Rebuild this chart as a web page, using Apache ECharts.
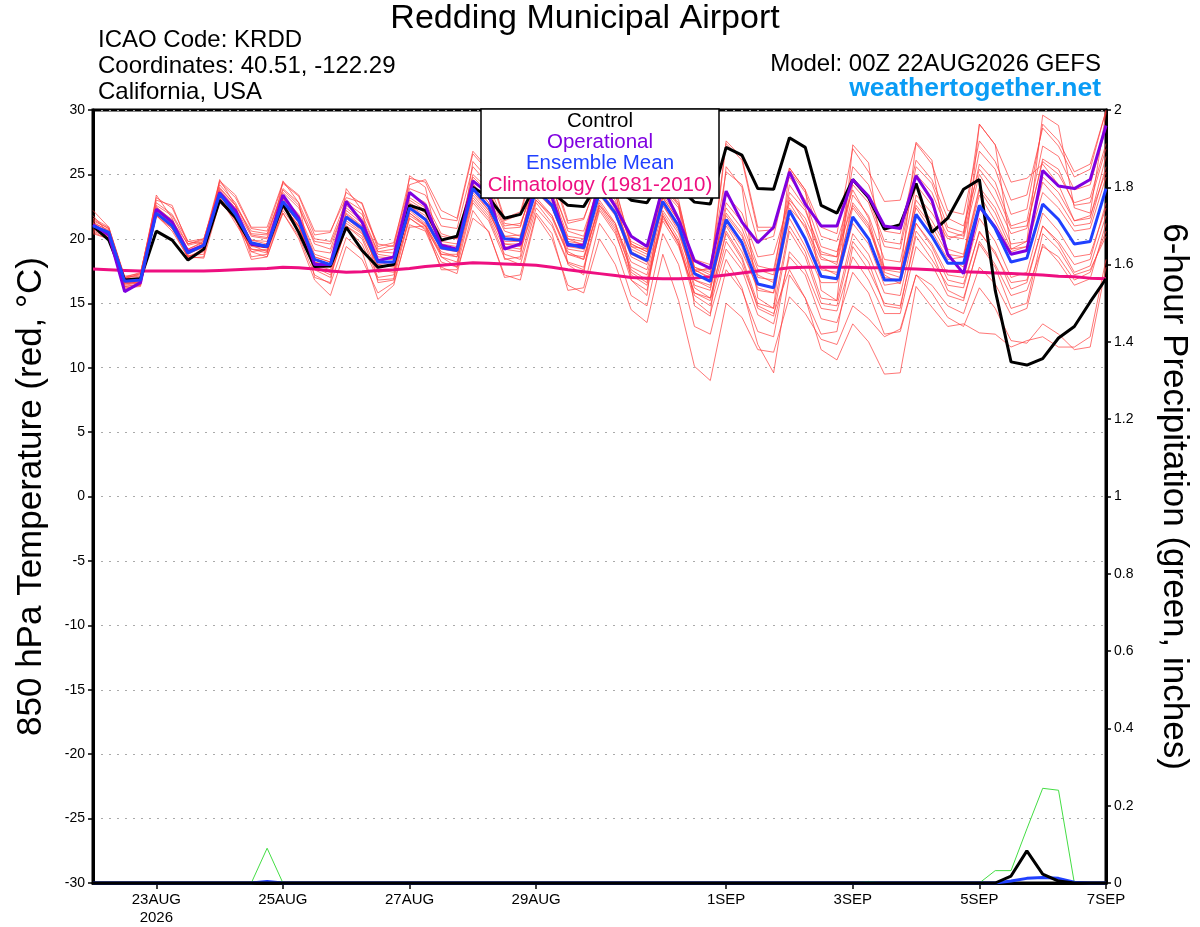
<!DOCTYPE html>
<html>
<head>
<meta charset="utf-8">
<title>Redding Municipal Airport</title>
<script src="https://cdn.jsdelivr.net/npm/echarts@6/dist/echarts.min.js"></script>
<style>
  html, body { margin: 0; padding: 0; background: #fff; }
  #chart { width: 1200px; height: 927px; }
</style>
</head>
<body>
<div id="chart"></div>
<script>
// x 轴刻度（6 小时一步，从 22AUG 00Z 起）
var tickIdx = [4, 12, 20, 28, 40, 48, 56, 64];
var tickTxt = ['23AUG\n2026', '25AUG', '27AUG', '29AUG', '1SEP', '3SEP', '5SEP', '7SEP'];

// 850hPa 温度
var control = [21.0,19.9,16.8,16.9, 20.6,19.9,18.35,19.2, 23.0,21.65,19.6,19.4, 22.7,20.5,17.85,17.9,
  20.9,19.1,17.8,18.0, 22.6,22.2,19.9,20.2, 24.0,23.2,21.6,21.9, 24.3,23.6,22.6,22.5,
  24.5,24.0,23.0,22.8, 24.8,24.0,22.85,22.7, 27.1,26.5,23.9,23.85, 27.85,27.1,22.6,22.0,
  24.6,23.2,20.75,21.1, 24.3,20.5,21.6,23.85, 24.6,16.0,10.45,10.2, 10.7,12.3,13.2,15.1, 16.9];
var operational = [21.1,20.3,15.9,16.6, 22.3,21.3,19.0,19.5, 23.6,22.2,19.6,19.4, 23.4,21.6,18.0,18.0,
  22.9,21.3,18.3,18.6, 23.6,22.6,19.5,19.2, 24.5,23.5,19.2,19.6, 24.5,23.2,19.5,19.5,
  24.5,22.5,20.2,19.4, 24.0,21.5,18.3,17.7, 23.7,21.3,19.7,20.9, 25.2,22.7,21.0,21.0,
  24.6,23.3,21.0,20.8, 24.9,23.0,18.8,17.3, 22.5,20.9,18.8,19.1, 25.3,24.1,23.9,24.6, 28.8];
var ensMean = [21.0,20.5,16.7,16.8, 22.0,21.0,18.9,19.5, 23.5,21.9,19.7,19.4, 22.9,21.4,18.4,18.0,
  21.7,20.8,18.2,18.2, 22.4,21.5,19.3,19.1, 23.9,22.5,20.0,19.9, 23.8,22.6,19.6,19.3,
  23.6,22.0,18.9,18.3, 22.9,21.0,17.3,16.7, 21.5,19.7,16.5,16.2, 22.2,20.0,17.1,16.9,
  21.7,20.0,16.8,16.8, 21.9,20.2,18.1,18.1, 22.6,20.8,18.2,18.5, 22.7,21.5,19.6,19.8, 23.9];
var climo = [17.65,17.6,17.55,17.5, 17.5,17.5,17.5,17.5, 17.55,17.6,17.65,17.7, 17.8,17.75,17.65,17.5,
  17.4,17.45,17.55,17.6, 17.7,17.85,17.95,18.05, 18.15,18.1,18.05,18.0, 17.95,17.8,17.6,17.45,
  17.3,17.15,17.0,16.95, 16.9,16.9,16.95,17.05, 17.2,17.35,17.5,17.6, 17.75,17.8,17.8,17.8,
  17.8,17.75,17.75,17.7, 17.65,17.6,17.5,17.45, 17.4,17.35,17.3,17.25, 17.2,17.1,17.05,16.95, 16.9];

// 集合成员
var m01 = [21.3,20.6,16.9,17.0, 22.6,21.8,19.5,19.8, 24.2,22.8,20.3,20.1, 23.8,22.6,19.6,19.2, 22.8,21.9,19.0,18.9, 23.5,22.8,20.4,20.0, 24.8,23.6,20.8,20.9, 25.2,24.1,20.6,20.2, 24.6,23.4,19.4,18.8, 23.8,22.4,17.6,17.0, 22.8,21.3,17.9,17.6, 23.6,22.2,19.0,18.6, 24.5,23.1,19.8,19.6, 25.6,24.3,20.9,20.5, 26.8,25.4,21.9,22.3, 28.9,27.6,25.2,25.8, 29.9];
var m02 = [21.5,20.8,17.0,17.2, 23.2,22.4,19.8,19.6, 24.4,23.2,20.8,20.6, 24.3,23.3,20.3,20.5, 23.6,22.7,19.2,19.5, 24.7,24.4,21.6,21.4, 26.6,25.2,21.4,21.9, 26.2,25.0,21.2,21.5, 25.0,23.8,19.6,19.0, 24.2,22.8,17.8,17.2, 27.4,26.1,20.6,20.7, 25.3,23.6,20.2,19.8, 23.8,21.6,17.2,16.5, 21.2,19.4,16.8,16.5, 20.5,19.0,16.1,16.6, 21.0,19.6,17.4,17.9, 21.8];
var m03 = [20.6,20.1,16.3,16.5, 21.9,21.1,18.7,18.8, 23.0,21.7,19.2,18.9, 22.4,20.9,17.8,17.2, 20.8,19.6,16.8,16.9, 21.6,20.7,18.2,17.8, 22.8,21.4,18.5,18.0, 22.4,21.0,18.1,17.6, 22.2,20.4,17.2,16.4, 21.6,19.8,15.6,14.8, 19.2,17.6,14.1,13.4, 18.6,17.2,13.8,13.5, 17.4,15.8,12.6,12.8, 17.2,15.8,13.9,13.2, 16.2,14.6,12.1,11.9, 13.4,12.6,11.4,11.6, 17.8];
var m04 = [20.8,20.2,16.5,16.6, 22.2,21.2,18.6,19.1, 23.6,21.5,19.0,19.2, 22.0,20.2,17.2,16.5, 20.1,19.0,15.3,16.4, 21.1,20.6,17.8,17.3, 22.2,20.5,17.2,16.8, 21.8,20.0,16.4,15.8, 20.0,18.0,14.5,13.5, 18.8,15.2,10.1,9.0, 15.0,13.9,11.4,11.2, 15.5,14.2,12.2,11.8, 14.8,13.8,12.4,13.0, 17.2,16.4,14.8,14.2, 17.8,16.5,14.1,14.6, 19.6,18.2,16.4,16.9, 21.2];
var m05 = [21.1,20.5,16.8,16.9, 22.1,21.3,19.1,19.6, 23.4,22.1,19.9,19.6, 23.1,21.8,18.8,18.4, 22.2,21.2,18.6,18.5, 22.8,22.0,19.6,19.4, 24.2,22.8,20.2,20.3, 24.6,23.2,20.0,19.5, 24.0,22.5,19.2,18.6, 23.4,21.6,17.8,17.4, 22.0,20.4,17.2,16.6, 22.8,20.8,17.6,17.4, 22.4,20.8,17.6,17.4, 23.0,21.4,19.2,18.8, 24.0,22.4,19.6,19.8, 24.4,23.0,21.0,21.2, 25.6];
var m06 = [20.5,20.0,16.2,16.3, 21.8,20.8,18.5,19.0, 22.9,21.5,19.0,18.6, 22.2,20.6,17.6,17.0, 21.0,20.2,17.4,17.6, 21.6,20.8,18.8,18.6, 23.2,21.8,19.2,19.0, 23.0,21.6,18.8,18.4, 22.8,21.0,18.2,17.6, 22.2,20.4,16.8,16.4, 21.2,19.4,16.0,15.8, 22.4,21.0,18.4,18.2, 24.2,22.8,19.4,19.2, 25.0,23.6,20.6,20.2, 25.8,24.4,21.0,21.4, 27.2,26.4,23.8,24.2, 28.6];
var m07 = [21.8,20.4,16.1,16.4, 23.4,21.6,18.5,18.6, 24.6,22.6,18.6,18.8, 24.5,22.8,17.0,16.6, 23.9,22.2,16.6,16.8, 24.9,24.0,18.6,17.8, 26.0,24.6,18.4,18.6, 26.4,25.2,18.0,17.2, 25.4,23.8,16.8,15.6, 24.5,22.6,14.8,14.0, 25.6,24.0,15.4,14.6, 25.5,23.8,16.0,15.2, 27.3,25.9,17.4,17.0, 27.5,26.1,18.6,17.8, 28.9,27.3,19.2,19.8, 29.6,28.8,22.4,22.0, 29.8];
var m08 = [20.9,20.3,16.6,16.7, 21.9,20.9,19.0,19.4, 23.3,21.8,19.9,19.8, 22.6,21.0,18.2,17.8, 21.2,20.4,18.0,17.8, 22.0,21.0,19.0,18.6, 23.4,22.0,19.6,19.4, 23.2,21.8,19.0,18.4, 22.6,20.8,17.6,16.8, 21.8,19.6,15.8,15.2, 19.8,18.0,14.8,14.2, 17.6,15.4,11.4,10.6, 13.4,12.0,9.5,9.6, 16.3,14.7,13.2,13.4, 12.7,12.6,11.6,12.1, 12.4,11.6,11.6,12.4, 18.4];
var m09 = [21.2,20.7,17.0,17.1, 22.4,21.5,19.2,19.7, 23.8,22.4,20.2,20.0, 23.2,21.9,19.1,18.9, 22.4,21.4,18.8,18.6, 23.0,22.2,19.8,19.6, 24.6,23.2,20.6,20.2, 24.8,23.6,20.2,20.0, 24.4,23.0,19.6,19.0, 24.0,22.6,17.6,17.6, 27.6,26.3,20.9,20.9, 24.8,23.0,19.4,19.0, 22.6,21.0,17.8,17.6, 22.4,20.6,18.4,18.6, 23.4,21.4,19.0,19.4, 23.6,22.4,20.6,20.8, 24.8];
var m10 = [21.0,20.4,16.6,16.8, 21.9,21.0,18.8,19.4, 23.6,21.9,19.6,19.5, 22.8,21.2,18.2,17.9, 21.6,20.6,18.0,18.2, 22.2,21.2,19.2,19.0, 24.0,22.6,19.8,19.8, 23.6,22.4,19.4,19.2, 23.4,21.8,18.6,18.0, 22.6,20.6,16.8,16.2, 21.0,19.0,16.2,15.8, 21.6,19.4,16.6,16.6, 21.2,19.6,16.4,16.6, 23.4,22.0,20.0,20.4, 28.9,27.3,24.4,24.7, 25.8,24.2,21.4,21.6, 26.4];
var m11 = [20.7,20.2,16.4,16.6, 21.8,20.8,18.9,19.3, 23.2,21.6,19.4,19.3, 22.5,21.0,18.0,17.6, 21.4,20.5,17.8,17.9, 22.0,21.1,18.8,18.8, 23.6,22.2,19.4,19.2, 23.0,21.8,18.8,18.6, 22.6,21.2,17.8,17.2, 21.8,19.6,15.2,14.2, 18.4,16.2,11.8,9.6, 17.2,15.4,12.6,12.8, 19.4,17.6,15.0,14.8, 20.2,18.4,16.4,16.2, 20.6,18.8,16.6,16.8, 21.0,19.8,18.0,18.4, 22.8];
var m12 = [21.4,20.8,17.0,17.4, 22.5,21.4,19.6,20.0, 23.9,22.6,20.6,20.4, 23.6,22.4,19.8,19.6, 22.6,21.6,19.0,19.2, 23.2,22.4,20.2,20.0, 25.0,23.8,21.0,21.2, 24.2,23.0,20.0,19.8, 23.8,22.6,19.8,19.2, 23.2,21.4,18.4,18.0, 23.4,22.0,18.6,18.8, 23.0,21.6,18.8,18.6, 25.6,24.2,20.6,20.4, 26.1,24.6,21.6,21.0, 25.4,23.8,20.8,21.0, 26.0,25.0,22.8,23.2, 27.4];
var m13 = [20.4,20.0,16.3,16.4, 22.0,21.0,18.6,18.5, 22.8,21.6,18.4,18.6, 22.0,20.0,16.8,15.6, 19.4,18.4,15.8,16.6, 20.9,21.0,17.6,17.6, 21.6,20.6,17.0,17.2, 22.0,20.4,16.0,16.2, 21.2,19.4,15.6,14.8, 20.4,18.0,13.2,12.6, 17.6,16.0,12.8,12.4, 19.0,17.6,14.6,14.4, 18.6,16.8,14.2,14.2, 19.4,18.0,15.6,15.2, 19.8,18.0,15.6,16.0, 19.4,18.6,16.8,17.4, 20.6];
var m14 = [22.2,20.9,16.9,17.3, 23.0,22.6,19.6,19.9, 24.5,23.4,20.9,20.9, 24.4,23.4,20.6,20.6, 23.2,22.8,19.4,19.7, 24.2,24.6,22.2,21.6, 26.8,25.4,21.6,22.1, 26.4,25.4,21.4,21.6, 24.8,24.0,19.4,19.2, 24.4,23.0,17.4,17.8, 25.2,24.2,19.8,20.2, 25.5,23.8,20.9,20.4, 27.0,25.2,22.9,23.0, 27.4,25.8,22.2,21.9, 27.6,26.0,23.0,23.4, 28.6,27.2,24.8,25.4, 30.0];
var m15 = [21.0,20.6,16.5,16.7, 22.3,21.0,19.2,19.8, 23.1,21.4,19.5,19.0, 23.0,21.6,18.6,18.2, 21.9,20.9,17.6,17.4, 22.6,21.8,19.4,19.2, 23.8,22.2,19.6,19.6, 24.0,22.4,19.2,19.0, 23.0,21.2,17.4,16.6, 21.4,19.4,15.8,15.4, 20.6,18.6,15.0,14.6, 21.0,19.0,15.4,15.2, 20.4,18.8,15.8,15.6, 21.2,19.6,17.2,17.0, 21.6,19.8,17.0,17.4, 22.0,20.6,18.6,18.8, 22.4];
var m16 = [21.2,20.4,16.7,16.9, 22.0,21.2,19.0,19.6, 23.7,22.0,19.6,19.4, 23.2,21.6,18.6,18.2, 22.0,21.0,18.4,18.4, 22.6,21.6,19.4,19.2, 24.3,22.8,20.2,20.0, 24.2,22.8,19.8,19.6, 23.8,22.2,19.0,18.4, 23.2,21.4,17.6,16.9, 22.4,20.8,17.6,17.2, 24.2,22.4,18.6,18.0, 23.4,21.8,18.4,18.2, 24.2,22.6,20.2,20.0, 25.0,23.0,20.4,20.8, 26.2,25.4,22.6,22.8, 27.0];
var m17 = [20.9,20.4,16.6,16.6, 21.8,20.6,18.6,19.2, 23.2,21.2,19.2,19.1, 22.6,21.0,17.8,17.4, 21.0,20.0,17.0,17.2, 21.8,21.0,18.6,18.2, 23.0,21.6,18.8,18.4, 22.8,21.2,18.2,17.8, 22.4,20.6,16.8,16.0, 22.0,20.0,16.2,15.4, 20.4,18.4,14.6,14.0, 20.6,18.6,15.0,14.8, 19.8,18.2,14.8,14.6, 20.6,19.0,16.0,15.4, 19.6,17.8,14.6,15.0, 20.4,19.2,17.2,17.6, 20.2];
var m18 = [21.6,20.9,17.1,17.3, 22.8,21.9,19.8,20.0, 24.0,22.6,20.4,20.3, 23.9,22.8,20.0,19.8, 23.0,22.2,19.6,19.4, 23.9,23.4,21.0,20.8, 25.6,24.2,21.2,21.0, 25.0,24.0,20.8,20.6, 24.2,22.8,18.8,18.2, 22.6,20.8,16.4,16.0, 21.8,20.2,17.0,16.8, 23.2,21.2,17.8,17.2, 22.8,21.2,17.0,16.8, 22.6,21.0,18.8,18.6, 23.8,22.0,19.2,19.4, 24.8,23.6,21.4,21.8, 25.2];
var members = [m01, m02, m03, m04, m05, m06, m07, m08, m09, m10, m11, m12, m13, m14, m15, m16, m17, m18];

// 6 小时降水（英寸）
var precipMember = [0,0,0,0, 0,0,0,0, 0,0,0,0.09, 0,0,0,0, 0,0,0,0, 0,0,0,0, 0,0,0,0, 0,0,0,0,
  0,0,0,0, 0,0,0,0, 0,0,0,0, 0,0,0,0, 0,0.004,0,0, 0,0,0,0, 0,0.032,0.032,0.14, 0.245,0.24,0,0, 0];
var precipControl = [0,0,0,0, 0,0,0,0, 0,0,0,0, 0,0,0,0, 0,0,0,0, 0,0,0,0, 0,0,0,0, 0,0,0,0,
  0,0,0,0, 0,0,0,0, 0,0,0,0, 0,0,0,0, 0,0,0,0, 0,0,0,0, 0,0,0.018,0.083, 0.023,0.005,0,0, 0];
var precipMean = [0,0,0,0, 0,0,0,0, 0,0,0,0.004, 0,0,0,0, 0,0,0,0, 0,0,0,0, 0,0,0,0, 0,0,0,0,
  0,0,0,0, 0,0,0,0, 0,0,0,0, 0,0,0,0, 0,0,0,0, 0,0,0,0, 0,0,0.005,0.012, 0.014,0.012,0.002,0, 0];

var times = [];
var t0 = Date.UTC(2026, 7, 22, 0);
for (var i = 0; i < control.length; i++) {
  times.push(new Date(t0 + i * 6 * 3600 * 1000).toISOString().slice(0, 13));
}

var FONT = '"Liberation Sans", Arial, Helvetica, sans-serif';
var isTick = function (idx) { return tickIdx.indexOf(idx) >= 0; };

var series = [];
members.forEach(function (m, k) {
  series.push({
    name: 'member' + (k + 1), type: 'line', data: m, symbol: 'none', silent: true, z: 2,
    lineStyle: { width: 1, color: 'rgba(255,60,60,0.7)' }
  });
});
series.push(
  { name: 'Precip member', type: 'line', yAxisIndex: 1, data: precipMember, symbol: 'none', z: 3,
    lineStyle: { width: 1, color: '#44dd44' } },
  { name: 'Climatology (1981-2010)', type: 'line', data: climo, symbol: 'none', z: 4,
    lineStyle: { width: 3, color: '#ee0f80' } },
  { name: 'Control', type: 'line', data: control, symbol: 'none', z: 5,
    lineStyle: { width: 3, color: '#000' } },
  { name: 'Operational', type: 'line', data: operational, symbol: 'none', z: 6,
    lineStyle: { width: 3, color: '#8000e0' } },
  { name: 'Ensemble Mean', type: 'line', data: ensMean, symbol: 'none', z: 7,
    lineStyle: { width: 3, color: '#2040ff' } },
  { name: 'Precip mean', type: 'line', yAxisIndex: 1, data: precipMean, symbol: 'none', z: 7,
    lineStyle: { width: 3, color: '#2040ff' } },
  { name: 'Precip control', type: 'line', yAxisIndex: 1, data: precipControl, symbol: 'none', z: 8,
    lineStyle: { width: 3, color: '#000' } }
);

var legendRows = [
  ['Control', '#000'],
  ['Operational', '#8000e0'],
  ['Ensemble Mean', '#2040ff'],
  ['Climatology (1981-2010)', '#ee0f80']
];
var legendEls = [{
  type: 'rect', z: 100, shape: { x: 481, y: 109, width: 238, height: 89 },
  style: { fill: '#fff', stroke: '#000', lineWidth: 1.5 }
}];
legendRows.forEach(function (r, k) {
  legendEls.push({
    type: 'text', z: 101, x: 600, y: 121 + k * 21.3,
    style: { text: r[0], fill: r[1], font: '20.5px ' + FONT, textAlign: 'center', textVerticalAlign: 'middle' }
  });
});

var infoText = function (txt, x, y, align, font, color) {
  return { type: 'text', z: 100, x: x, y: y,
    style: { text: txt, fill: color || '#000', font: font, textAlign: align, textVerticalAlign: 'middle' } };
};

var chart = echarts.init(document.getElementById('chart'));
chart.setOption({
  animation: false,
  backgroundColor: '#fff',
  textStyle: { fontFamily: FONT },
  grid: { left: 93, right: 94, top: 110, bottom: 44, show: true, borderColor: '#000', borderWidth: 3 },
  xAxis: {
    type: 'category', boundaryGap: false, data: times,
    axisLine: { onZero: false, lineStyle: { color: '#000', width: 3 } },
    axisTick: { interval: isTick, length: 6, lineStyle: { color: '#000', width: 1.5 } },
    axisLabel: {
      interval: isTick, color: '#000', fontSize: 15, margin: 8, lineHeight: 18,
      formatter: function (v, idx) { return tickTxt[tickIdx.indexOf(idx)] || ''; }
    },
    splitLine: { show: false }
  },
  yAxis: [{
    type: 'value', position: 'left', min: -30, max: 30, interval: 5,
    name: '850 hPa Temperature (red, °C)', nameLocation: 'middle', nameRotate: 90, nameGap: 44,
    nameTextStyle: { fontSize: 35, color: '#000' },
    axisLine: { show: true, lineStyle: { color: '#000', width: 3 } },
    axisTick: { show: true, length: 5, lineStyle: { color: '#000', width: 1.5 } },
    axisLabel: { color: '#000', fontSize: 14, margin: 8 },
    splitLine: { show: true, lineStyle: { color: '#aaa', type: [2, 6], width: 1.2 } }
  }, {
    type: 'value', position: 'right', min: 0, max: 2, interval: 0.2,
    name: '6-hour Precipitation (green, inches)', nameLocation: 'middle', nameRotate: -90, nameGap: 50,
    nameTextStyle: { fontSize: 35, color: '#000' },
    axisLine: { show: true, lineStyle: { color: '#000', width: 3 } },
    axisTick: { show: true, length: 5, lineStyle: { color: '#000', width: 1.5 } },
    axisLabel: { color: '#000', fontSize: 14, margin: 8 },
    splitLine: { show: false }
  }],
  graphic: [
    infoText('Redding Municipal Airport', 585, 19, 'center', '34px ' + FONT),
    infoText('ICAO Code: KRDD', 98, 40, 'left', '24px ' + FONT),
    infoText('Coordinates: 40.51, -122.29', 98, 66, 'left', '24px ' + FONT),
    infoText('California, USA', 98, 92, 'left', '24px ' + FONT),
    infoText('Model: 00Z 22AUG2026 GEFS', 1101, 64, 'right', '24px ' + FONT),
    infoText('weathertogether.net', 1101, 89, 'right', 'bold 26.5px ' + FONT, '#0a9cf5')
  ].concat(legendEls),
  series: series
});
</script>
</body>
</html>
